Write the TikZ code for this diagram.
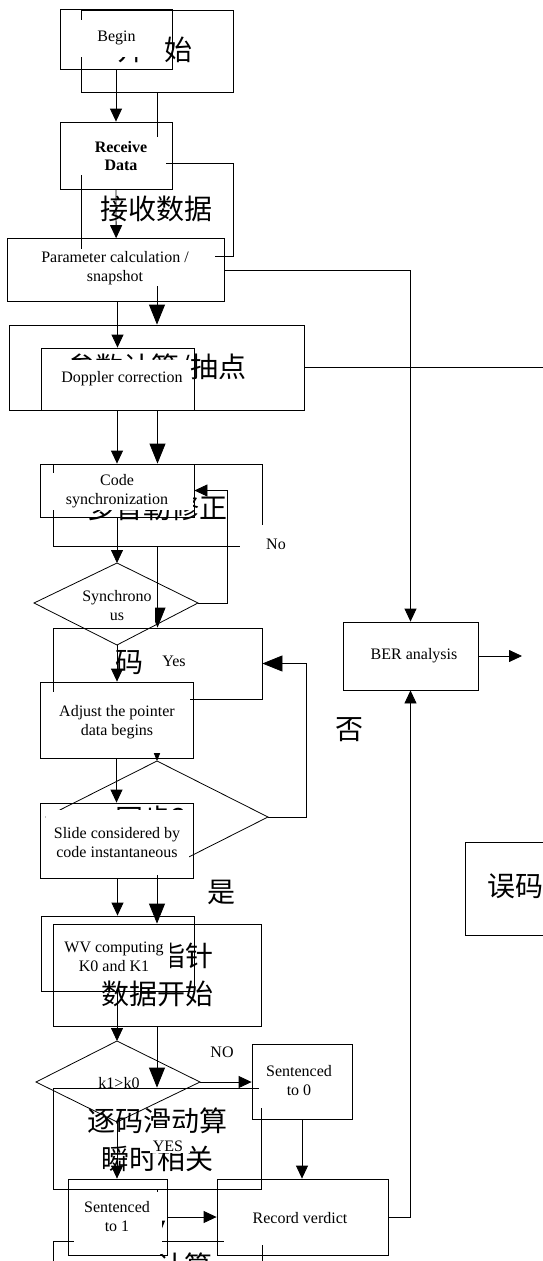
\documentclass[tikz,border=0pt]{standalone}
\usepackage{fontspec}
\setmainfont{Liberation Serif}
\newfontfamily\cjk{Noto Sans CJK SC}
\usetikzlibrary{arrows.meta}
\tikzset{
  ebox/.style={draw, line width=0.8pt, inner sep=0pt},
  cbox/.style={draw, line width=0.8pt, inner sep=0pt},
  etxt/.style={font=\fontsize{16}{19}\selectfont, align=center, inner sep=0pt},
  ctxt/.style={font=\cjk\fontsize{28}{38}\selectfont, align=center, inner sep=0pt},
  eline/.style={line width=0.8pt},
  earrow/.style={line width=0.8pt, -{Triangle[length=13pt,width=12pt]}},
  carrow/.style={line width=0.8pt, -{Triangle[length=20pt,width=16pt]}},
  maskfill/.style={fill=white},
}
\begin{document}
\begin{tikzpicture}[x=1pt,y=-1pt]
\useasboundingbox (0,0) rectangle (542,1261);

% ================= Chinese layer =================
\node[cbox, minimum width=152pt, minimum height=82pt] (c1) at (157,51) {};
\node[ctxt] (c1t) at (155,50) {开\hspace{19pt}始};
\node[cbox, minimum width=152pt, minimum height=93pt] (c2) at (157,209.5) {};
\node[ctxt] (c2t) at (156,209) {接收数据};
\node[cbox, minimum width=295pt, minimum height=85pt] (c3) at (156.5,367.5) {};
\node[ctxt] (c3t) at (157,368) {参数计算/抽点};
\node[cbox, minimum width=209pt, minimum height=82pt] (c4) at (157.5,505) {};
\node[ctxt] (c4t) at (157,508) {多普勒修正};
\node[cbox, minimum width=209pt, minimum height=71pt] (c5) at (157.5,663.5) {};
\node[ctxt] (c5t) at (157,662) {码同步};
\coordinate (cdt) at (157,761);
\coordinate (cdr) at (268,817);
\coordinate (cdb) at (157,873);
\coordinate (cdl) at (46,817);
\draw[eline] (cdt) -- (cdr) -- (cdb) -- (cdl) -- cycle;
\node[ctxt] (cdtx) at (157,819) {同步？};
\node[cbox, minimum width=208pt, minimum height=102pt] (c6) at (157,975) {};
\node[ctxt] (c6t) at (157,975) {调整指针\\数据开始};
\node[cbox, minimum width=208pt, minimum height=101pt] (c7) at (157,1138.5) {};
\node[ctxt] (c7t) at (157,1140) {逐码滑动算\\瞬时相关};
\node[cbox, minimum width=209pt, minimum height=98pt] (c8) at (157.5,1290) {};
\node[ctxt] (c8t) at (184,1266) {计算};
\node[cbox, minimum width=156pt, minimum height=93pt] (c9) at (543,888.5) {};
\node[ctxt] (c9t) at (543,886) {误码分析};
\node[ctxt] (lfou) at (349,730) {否};
\node[ctxt] (lshi) at (221,892) {是};
\coordinate (c3out) at (560,367.5);

\draw[carrow] (c1.south) -- (c2.north);
\draw[carrow] (c2.south) -- (c2.south |- c3.north);
\draw[carrow] (c4.north |- c3.south) -- (c4.north);
\draw[carrow] (c4.south) -- (c5.north);
\draw[carrow] (cdt |- c5.south) -- (cdt);
\draw[carrow] (cdb) -- (c6.north);
\draw[carrow] (c6.south) -- (c7.north);
\draw[carrow] (c7.south) -- (c7.south |- c8.north);
\draw[carrow] (cdr) -- ++(38,0) |- (c5.east);
\draw[eline] (c3.east) -- (c3out);

% ================= white text boxes =================
\fill[maskfill] (75,20) rectangle (155,57);
\fill[maskfill] (74,137) rectangle (166,175);
\fill[maskfill] (40,249) rectangle (215,286);
\fill[maskfill] (44,360) rectangle (188,405);
\fill[maskfill] (52,473) rectangle (193,510);
\fill[maskfill] (80,588) rectangle (155,622);
\fill[maskfill] (144,646) rectangle (205,680);
\fill[maskfill] (240,525) rectangle (300,560);
\fill[maskfill] (45,692) rectangle (190,753);
\fill[maskfill] (46,810) rectangle (189,875);
\fill[maskfill] (55,930) rectangle (170,975);
\fill[maskfill] (259,1050) rectangle (346,1108);
\fill[maskfill] (150,1128) rectangle (190,1153);
\fill[maskfill] (74,1192) rectangle (162,1254);
\fill[maskfill] (224,1192) rectangle (380,1244.5);

% ================= English layer =================
\node[ebox, minimum width=112pt, minimum height=60pt] (e1) at (116,39) {};
\node[ebox, minimum width=112pt, minimum height=67pt] (e2) at (116,155.5) {};
\node[ebox, minimum width=217pt, minimum height=63pt] (e3) at (116.15,270.1) {};
\node[ebox, minimum width=153pt, minimum height=62pt] (e4) at (117.5,379) {};
\node[ebox, minimum width=154pt, minimum height=53pt] (e5) at (117,490.5) {};
\coordinate (e6t) at (117,563);
\coordinate (e6r) at (198,603);
\coordinate (e6b) at (117,645);
\coordinate (e6l) at (34,603);
\draw[eline] (e6t) -- (e6r) -- (e6b) -- (e6l) -- cycle;
\node[ebox, minimum width=153pt, minimum height=76pt] (e7) at (116.5,720) {};
\node[ebox, minimum width=153pt, minimum height=75pt] (e8) at (116.5,840.5) {};
\node[ebox, minimum width=153pt, minimum height=75pt] (e9) at (117.5,953.5) {};
\coordinate (e10t) at (117,1041);
\coordinate (e10r) at (200,1082);
\coordinate (e10b) at (117,1122);
\coordinate (e10l) at (36,1082);
\draw[eline] (e10t) -- (e10r) -- (e10b) -- (e10l) -- cycle;
\node[ebox, minimum width=100pt, minimum height=75pt] (e11) at (302,1081.5) {};
\node[ebox, minimum width=99pt, minimum height=76pt] (e12) at (117.5,1217) {};
\node[ebox, minimum width=171pt, minimum height=76pt] (e13) at (302.5,1217) {};
\node[ebox, minimum width=135pt, minimum height=68pt] (ber) at (410.5,656) {};
\coordinate (berout) at (522,656);

\node[etxt] (t1) at (116.5,38) {Begin};
\node[etxt, font=\fontsize{16}{18}\selectfont\bfseries] (t2) at (121,156) {Receive\\Data};
\node[etxt] (t3) at (115,268) {Parameter calculation /\\snapshot};
\node[etxt] (t4) at (122,379) {Doppler correction};
\node[etxt] (t5) at (117,491) {Code\\synchronization};
\node[etxt] (t6) at (117,606) {Synchrono\\us};
\node[etxt] (t7) at (117,722) {Adjust the pointer\\data begins};
\node[etxt] (t8) at (117,842.5) {Slide considered by\\code instantaneous};
\node[etxt] (t9) at (114,957) {WV computing\\K0 and K1};
\node[etxt] (t10) at (119,1083) {k1>k0};
\node[etxt] (t11) at (299,1081) {Sentenced\\to 0};
\node[etxt] (t12) at (117,1217) {Sentenced\\to 1};
\node[etxt] (t13) at (300,1218) {Record verdict};
\node[etxt] (tber) at (414,656) {BER analysis};
\node[etxt] (lno) at (276,544) {No};
\node[etxt] (lyes) at (174,661) {Yes};
\node[etxt] (lNO) at (222,1052) {NO};
\node[etxt] (lYES) at (168,1146) {YES};

\draw[earrow] (e1.south) -- (e2.north);
\draw[earrow] (e2.south) -- (e3.north);
\draw[earrow] (e4.north |- e3.south) -- (e4.north);
\draw[earrow] (e5.north |- e4.south) -- (e5.north);
\draw[earrow] (e5.south) -- (e6t);
\draw[earrow] (e6r) -- ++(29,0) |- (e5.east);
\draw[earrow] (e6b) -- (e6b |- e7.north);
\draw[earrow] (e7.south) -- (e8.north);
\draw[earrow] (e9.north |- e8.south) -- (e9.north);
\draw[earrow] (e10t |- e9.south) -- (e10t);
\draw[earrow] (e10r) -- (e10r -| e11.west);
\draw[earrow] (e10b) -- (e10b |- e12.north);
\draw[earrow] (e11.south) -- (e11.south |- e13.north);
\draw[earrow] (e12.east) -- (e13.west);
\draw[earrow] (e13.east) -| (ber.south);
\draw[earrow] (e3.east) -| (ber.north);
\draw[earrow] (ber.east) -- (berout);
\end{tikzpicture}
\end{document}
